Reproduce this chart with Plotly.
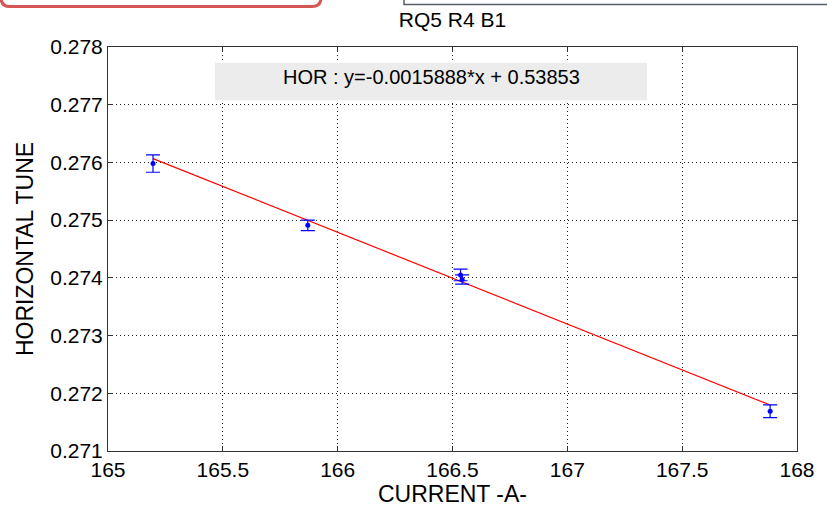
import plotly.graph_objects as go

# Measured tune vs. quadrupole current
current = [165.196, 165.870, 166.535, 166.542, 167.883]
tune = [0.27598, 0.27491, 0.27405, 0.27397, 0.27169]
tune_err = [0.00015, 0.00009, 0.00010, 0.00008, 0.00011]

# Linear fit coefficients
slope = -0.0015888
intercept = 0.53853

x_ticks = [165, 165.5, 166, 166.5, 167, 167.5, 168]
y_ticks = [0.271, 0.272, 0.273, 0.274, 0.275, 0.276, 0.277, 0.278]

W, H = 827, 512
L, R, T, B = 108, 30, 47, 56
PW, PH = W - L - R, H - T - B


def px(x):
    return (x - L) / PW


def py(y):
    return (H - B - y) / PH


FONT = "Liberation Sans, Arial, sans-serif"

fit_x = [min(current), max(current)]
fit_y = [slope * v + intercept for v in fit_x]

fig = go.Figure()
fig.add_trace(go.Scatter(
    x=fit_x, y=fit_y, mode="lines",
    line=dict(color="#ff0000", width=1.2),
    hoverinfo="skip", showlegend=False,
))
fig.add_trace(go.Scatter(
    x=current, y=tune, mode="markers",
    marker=dict(color="#0000ff", size=5),
    error_y=dict(type="data", array=tune_err, visible=True,
                 color="#0000ff", thickness=1.2, width=7),
    showlegend=False,
))

# window decorations along the top edge
r = 9
x0, x1, yb, yt = 1, 321, 6, -20
path = (f"M {px(x0)},{py(yt)} L {px(x0)},{py(yb - r)} "
        f"Q {px(x0)},{py(yb)} {px(x0 + r)},{py(yb)} "
        f"L {px(x1 - r)},{py(yb)} Q {px(x1)},{py(yb)} {px(x1)},{py(yb - r)} "
        f"L {px(x1)},{py(yt)}")
shapes = [
    dict(type="path", xref="paper", yref="paper", path=path,
         line=dict(color="#d65555", width=3), layer="above"),
    dict(type="rect", xref="paper", yref="paper",
         x0=px(404), x1=px(835), y0=py(4), y1=py(-20),
         line=dict(color="#585e6e", width=1.5), fillcolor="rgba(0,0,0,0)"),
    # fit-equation box
    dict(type="rect", xref="paper", yref="paper",
         x0=px(215), x1=px(647), y0=py(101), y1=py(63),
         line=dict(width=0), fillcolor="#ececec", layer="above"),
]

fig.update_layout(
    width=W, height=H,
    margin=dict(l=L, r=R, t=T, b=B),
    paper_bgcolor="white", plot_bgcolor="white",
    font=dict(family=FONT, size=21, color="black"),
    title=dict(text="RQ5 R4 B1", x=0.5, xref="paper", xanchor="center",
               y=1 - 20 / H, yanchor="middle", font=dict(size=21)),
    shapes=shapes,
    annotations=[dict(
        text="HOR : y=-0.0015888*x + 0.53853", xref="paper", yref="paper",
        x=px(431), y=py(77), showarrow=False, font=dict(size=20),
        xanchor="center", yanchor="middle",
    )],
)

axis_common = dict(
    showline=True, linecolor="#333333", linewidth=1, mirror="ticks",
    ticks="inside", ticklen=5, tickcolor="#333333",
    showgrid=True, gridcolor="#222222", gridwidth=1, griddash="1px,3px",
    zeroline=False,
)
fig.update_xaxes(
    range=[165, 168], tickvals=x_ticks,
    ticktext=[f"{v:g}" for v in x_ticks],
    tickfont=dict(size=21),
    title=dict(text="CURRENT -A-", standoff=3, font=dict(size=23)),
    **axis_common,
)
fig.update_yaxes(
    range=[0.271, 0.278], tickvals=y_ticks,
    ticktext=[f"{v:.3f}" for v in y_ticks],
    tickfont=dict(size=21),
    title=dict(text="HORIZONTAL TUNE", standoff=10, font=dict(size=23)),
    **axis_common,
)

fig.write_html("out.html")
